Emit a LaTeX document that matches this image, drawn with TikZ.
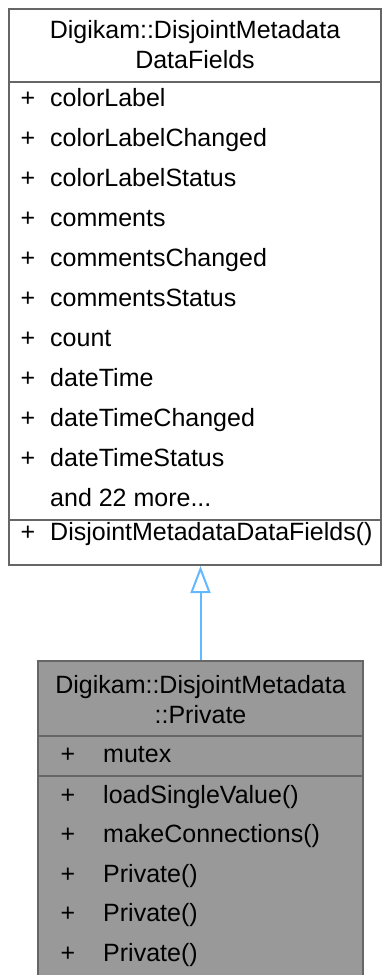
\documentclass[tikz,border=0pt]{standalone}
\usepackage{fontspec}
\setmainfont{Liberation Sans}
\usetikzlibrary{arrows.meta}
\definecolor{bordergray}{HTML}{666666}
\definecolor{boxgray}{HTML}{999999}
\definecolor{arrowblue}{HTML}{63B8FF}
\begin{document}
\begin{tikzpicture}[x=1pt,y=-1pt,
  txt/.style={inner sep=0pt, font=\fontsize{25}{30}\selectfont},
  rowtxt/.style={txt, anchor=base west},
  plustxt/.style={txt, anchor=base},
  classbox/.style={draw=bordergray, line width=2pt, inner sep=0pt},
  sepline/.style={draw=bordergray, line width=2pt},
  inherit/.style={draw=arrowblue, line width=2pt, -{Triangle[open, length=27pt, width=20pt]}}]
\useasboundingbox (0,0) rectangle (382,975);
\fill[white] (0,0) rectangle (382,975);
% top class
\node[classbox, minimum width=372pt, minimum height=556pt] (top) at (195,287) {};
\node[txt, anchor=base] (t1) at (195,38) {Digikam::DisjointMetadata};
\node[txt, anchor=base] (t2) at (195,68) {DataFields};
\coordinate (s1) at (9,82);
\draw[sepline] (s1) -- (s1 -| top.east);
\foreach \name [count=\i from 0] in {colorLabel,colorLabelChanged,colorLabelStatus,comments,commentsChanged,commentsStatus,count,dateTime,dateTimeChanged,dateTimeStatus}{
  \node[plustxt] (tp\i) at (28,106+40*\i) {+};
  \node[rowtxt] (tr\i) at (50,106+40*\i) {\name};
}
\node[rowtxt] (more) at (50,506) {and 22 more...};
\coordinate (s2) at (9,520);
\draw[sepline] (s2) -- (s2 -| top.east);
\node[plustxt] (cp) at (28,540) {+};
\node[rowtxt] (ctor) at (50,540) {DisjointMetadataDataFields()};
% bottom class
\node[classbox, fill=boxgray, minimum width=325pt, minimum height=316pt] (bot) at (200.5,819) {};
\node[txt, anchor=base] (b1) at (200.5,693) {Digikam::DisjointMetadata};
\node[txt, anchor=base] (b2) at (200.5,723) {::Private};
\coordinate (s3) at (bot.west |- 0,735.5);
\draw[sepline] (s3) -- (s3 -| bot.east);
\node[plustxt] (mp) at (68,762.5) {+};
\node[rowtxt] (mutex) at (103,762.5) {mutex};
\coordinate (s4) at (bot.west |- 0,776);
\draw[sepline] (s4) -- (s4 -| bot.east);
\foreach \name [count=\i from 0] in {loadSingleValue(),makeConnections(),Private(),Private(),Private()}{
  \node[plustxt] (bp\i) at (68,803+39.5*\i) {+};
  \node[rowtxt] (br\i) at (103,803+39.5*\i) {\name};
}
% inheritance
\draw[inherit] (bot.north) -- (top.south -| bot.north);
\end{tikzpicture}
\end{document}
